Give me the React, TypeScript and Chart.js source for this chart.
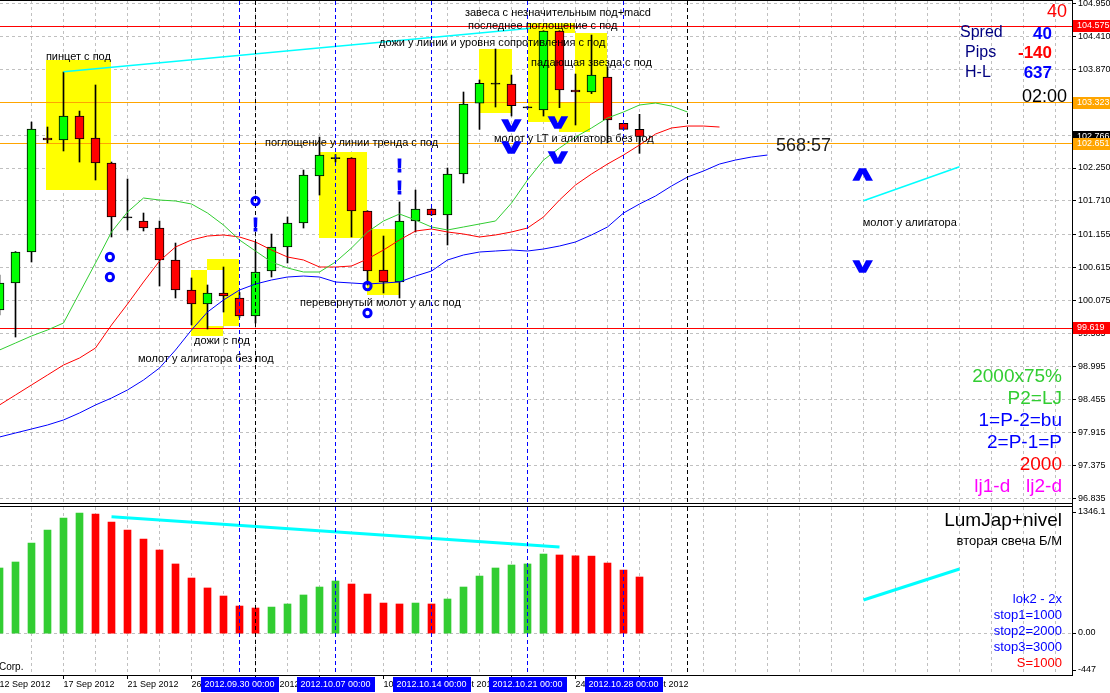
import React, { useEffect, useRef } from 'react';
import { Chart, registerables } from 'chart.js';
Chart.register(...registerables);

const FONT = '"Liberation Sans", Arial, sans-serif';

// ---- daily candles, 12 Sep 2012 .. 29 Oct 2012 (Sunday bars included) ----
const opens = [99.922, 100.365, 100.873, 102.742, 102.709, 103.102, 102.742, 102.332, 101.440, 101.381, 101.266, 100.742, 100.250, 100.020, 100.201, 100.119, 99.824, 100.561, 100.955, 101.348, 102.119, 102.414, 102.414, 101.545, 100.578, 100.381, 101.381, 101.578, 101.479, 102.152, 103.315, 103.632, 103.627, 103.245, 103.201, 104.496, 103.529, 103.496, 103.742, 102.982, 102.884];
const highs = [100.496, 100.880, 103.004, 102.922, 103.824, 103.184, 103.611, 102.348, 102.070, 101.512, 101.381, 101.020, 100.447, 100.332, 100.627, 100.210, 101.037, 101.168, 101.447, 102.217, 102.758, 102.470, 102.420, 101.550, 101.135, 101.693, 101.889, 101.585, 102.250, 103.496, 103.693, 104.201, 103.774, 103.260, 104.501, 104.501, 103.791, 104.430, 103.911, 102.982, 103.130];
const lows = [99.840, 99.479, 100.709, 102.660, 102.529, 102.348, 102.053, 101.119, 101.234, 101.217, 100.315, 100.119, 99.676, 99.611, 99.889, 99.800, 99.709, 100.463, 100.693, 101.266, 101.807, 102.348, 101.119, 100.332, 100.201, 100.119, 101.201, 101.470, 100.988, 102.004, 102.884, 103.250, 103.102, 103.230, 103.102, 103.239, 102.955, 103.470, 102.660, 102.884, 102.491];
const closes = [100.365, 100.873, 102.889, 102.709, 103.102, 102.725, 102.332, 101.447, 101.440, 101.266, 100.742, 100.250, 100.020, 100.201, 100.152, 99.824, 100.545, 100.955, 101.348, 102.135, 102.463, 102.414, 101.545, 100.561, 100.381, 101.381, 101.578, 101.479, 102.152, 103.299, 103.638, 103.632, 103.271, 103.245, 104.496, 103.529, 103.496, 103.774, 103.037, 102.884, 102.766];

// ---- Alligator (shifted forward) ----
const lipsGreen = [99.266, 99.381, 99.496, 99.594, 99.709, 100.201, 100.693, 101.201, 101.529, 101.758, 101.725, 101.709, 101.660, 101.512, 101.315, 101.070, 100.889, 100.709, 100.611, 100.545, 100.545, 100.709, 100.939, 101.201, 101.381, 101.496, 101.397, 101.283, 101.234, 101.283, 101.332, 101.381, 101.676, 102.053, 102.381, 102.578, 102.758, 102.906, 103.070, 103.168, 103.283, 103.315, 103.266, 103.168];
const teethRed = [98.365, 98.529, 98.693, 98.856, 99.020, 99.135, 99.299, 99.676, 100.020, 100.381, 100.725, 100.955, 101.070, 101.135, 101.152, 101.119, 101.037, 100.906, 100.791, 100.742, 100.627, 100.627, 100.643, 100.758, 100.906, 101.070, 101.217, 101.250, 101.201, 101.168, 101.119, 101.152, 101.201, 101.266, 101.447, 101.725, 101.971, 102.152, 102.315, 102.463, 102.627, 102.807, 102.906, 102.938, 102.938, 102.922];
const jawBlue = [97.840, 97.906, 97.971, 98.037, 98.119, 98.234, 98.365, 98.479, 98.611, 98.774, 98.971, 99.266, 99.594, 99.889, 100.086, 100.250, 100.348, 100.414, 100.463, 100.479, 100.463, 100.381, 100.365, 100.348, 100.365, 100.381, 100.479, 100.561, 100.742, 100.824, 100.873, 100.889, 100.906, 100.889, 100.922, 100.971, 101.037, 101.152, 101.283, 101.512, 101.660, 101.791, 101.955, 102.102, 102.201, 102.315, 102.381, 102.430, 102.463];

// ---- LumJap+nivel histogram ----
const histValues = [695, 759, 962, 1100, 1229, 1282, 1271, 1186, 1100, 1004, 887, 738, 588, 482, 396, 289, 268, 278, 311, 407, 492, 556, 524, 417, 321, 311, 321, 311, 364, 492, 609, 695, 727, 738, 844, 834, 825, 822, 748, 673, 599];

// ---- trend lines ----
const trendTopX = [4, 33.2];
const trendTopY = [103.829, 104.540];
const trendFutX = [54, 60];
const trendFutY = [101.714, 102.271];
const histTrendX = [7, 35];
const histTrendY = [1242, 919];
const histFutX = [54, 60];
const histFutY = [353, 684];

// ---- axes ----
const priceTicks = [104.950, 104.410, 103.870, 103.330, 102.790, 102.250, 101.710, 101.155, 100.615, 100.075, 99.535, 98.995, 98.455, 97.915, 97.375, 96.835];
const dateTickIndex = [0, 4, 8, 12, 16, 20, 24, 28, 32, 36, 40];
const dateTickLabels = ['12 Sep 2012', '17 Sep 2012', '21 Sep 2012', '26 Sep 2012', '1 Oct 2012', '5 Oct 2012', '10 Oct 2012', '15 Oct 2012', '19 Oct 2012', '24 Oct 2012', '29 Oct 2012'];
const weekLineIndex = [15, 21, 27, 33, 39];
const weekLineLabels = ['2012.09.30 00:00', '2012.10.07 00:00', '2012.10.14 00:00', '2012.10.21 00:00', '2012.10.28 00:00'];
const monthLineIndex = [16, 43];

const levelPrices = [104.575, 103.323, 102.651, 99.619];
const levelColors = ['#ff0000', '#ffa500', '#ffa500', '#ff0000'];
const tagPrices = [104.575, 103.323, 102.766, 102.651, 99.619];
const tagColors = ['#ff0000', '#ffa500', '#000000', '#ffa500', '#ff0000'];

// highlight rectangles: [fromIndex, toIndex, topPrice, bottomPrice]
const yellowBoxes = [
  [2.91, 6.97, 104.020, 101.889],
  [11.97, 12.97, 100.578, 99.496],
  [12.97, 13.97, 99.660, 99.496],
  [12.97, 14.97, 100.758, 100.578],
  [13.97, 14.97, 100.578, 99.660],
  [19.97, 22.97, 102.512, 101.102],
  [22.97, 24.97, 101.250, 100.168],
  [29.97, 32.03, 104.201, 103.152],
  [33.03, 35.97, 104.627, 104.463],
  [33.03, 34.97, 104.463, 103.004],
  [35.97, 37.97, 104.463, 103.332],
  [34.97, 36.91, 103.332, 102.840],
];

// text notes: [index, price, text]
const notes: [number, number, string][] = [
  [2.9, 104.070, 'пинцет с под'],
  [12.16, 99.414, 'дожи с под'],
  [8.66, 99.119, 'молот у алигатора без под'],
  [16.59, 102.668, 'поглощение у линии тренда с под'],
  [18.78, 100.045, 'перевернутый молот у ал.с под'],
  [23.72, 104.294, 'дожи у линии и уровня сопротивления с под'],
  [29.09, 104.786, 'завеса с незначительным под+macd'],
  [29.28, 104.583, 'последнее поглощение с под'],
  [33.22, 103.976, 'падающая звезда с под'],
  [30.9, 102.720, 'молот у LT и алигатора без под'],
  [53.95, 101.343, 'молот у алигатора'],
];

// signal marks: [index, price, kind]
const marks: [number, number, string][] = [
  [6.9, 100.791, 'o'], [6.9, 100.463, 'o'],
  [16, 101.709, 'o'], [16, 101.315, '!'],
  [23, 100.315, 'o'], [23, 99.873, 'o'],
  [25, 102.283, '!'], [25, 101.922, '!'],
  [32, 102.938, 'v'], [32, 102.578, 'v'],
  [34.9, 102.988, 'v'], [34.9, 102.414, 'v'],
  [53.95, 102.147, '^'], [53.95, 100.632, 'v'],
];

const countdown: [number, number, string] = [48.53, 102.611, '568:57'];

const X_MIN = 0.03125;
const X_MAX = 67.03125;

const crisp = (v: number) => Math.floor(v) + 0.5;
function hLine(ctx: CanvasRenderingContext2D, x0: number, x1: number, y: number) {
  ctx.beginPath(); ctx.moveTo(x0, y); ctx.lineTo(x1, y); ctx.stroke();
}
function vLine(ctx: CanvasRenderingContext2D, x: number, y0: number, y1: number) {
  ctx.beginPath(); ctx.moveTo(x, y0); ctx.lineTo(x, y1); ctx.stroke();
}
function txt(ctx: CanvasRenderingContext2D, s: string, x: number, y: number, font: string, color: string, align: CanvasTextAlign = 'left') {
  ctx.font = font; ctx.fillStyle = color; ctx.textAlign = align; ctx.textBaseline = 'middle';
  ctx.fillText(s, x, y);
}
function drawMark(ctx: CanvasRenderingContext2D, kind: string, x: number, y: number) {
  ctx.fillStyle = '#0000ff';
  ctx.strokeStyle = '#0000ff';
  ctx.setLineDash([]);
  if (kind === 'o') {
    ctx.lineWidth = 3;
    ctx.beginPath();
    ctx.ellipse(x, y, 3.6, 3.8, 0, 0, Math.PI * 2);
    ctx.stroke();
  } else if (kind === '!') {
    ctx.textAlign = 'center';
    ctx.textBaseline = 'alphabetic';
    ctx.lineWidth = 1.2;
    ctx.font = `bold 18px ${FONT}`;
    ctx.fillText('!', x, y + 6.4);
    ctx.strokeText('!', x, y + 6.4);
  } else {
    ctx.save();
    ctx.translate(x, y);
    ctx.scale(1.6, kind === '^' ? -1 : 1);
    ctx.textAlign = 'center';
    ctx.textBaseline = 'alphabetic';
    ctx.lineWidth = 1.4;
    ctx.font = `bold 20px ${FONT}`;
    ctx.fillText('v', 0, 5.2);
    ctx.strokeText('v', 0, 5.2);
    ctx.restore();
  }
}

const mainDecor = {
  id: 'mainDecor',
  beforeDatasetsDraw(chart: any) {
    const { ctx, chartArea: a, scales } = chart;
    const xs = scales.x, ys = scales.y;
    ctx.save();
    ctx.beginPath(); ctx.rect(a.left, a.top, a.right - a.left, a.bottom - a.top); ctx.clip();
    ctx.lineWidth = 1;
    ctx.strokeStyle = '#c0c0c0';
    ctx.setLineDash([3, 3]);
    priceTicks.forEach((v) => hLine(ctx, a.left, a.right, crisp(ys.getPixelForValue(v))));
    for (let i = 2; i <= 66; i += 2) vLine(ctx, crisp(xs.getPixelForValue(i)), a.top, a.bottom);
    ctx.setLineDash([]);
    ctx.fillStyle = '#ffff00';
    yellowBoxes.forEach(([i0, i1, p0, p1]) => {
      const x0 = Math.round(xs.getPixelForValue(i0)), x1 = Math.round(xs.getPixelForValue(i1));
      const y0 = Math.round(ys.getPixelForValue(p0)), y1 = Math.round(ys.getPixelForValue(p1));
      ctx.fillRect(x0, y0, x1 - x0, y1 - y0);
    });
    levelPrices.forEach((p, k) => {
      ctx.strokeStyle = levelColors[k];
      hLine(ctx, a.left, a.right, crisp(ys.getPixelForValue(p)));
    });
    ctx.restore();
  },
  afterDatasetsDraw(chart: any) {
    const { ctx, chartArea: a, scales } = chart;
    const xs = scales.x, ys = scales.y;
    ctx.save();
    ctx.beginPath(); ctx.rect(a.left, a.top, a.right - a.left, a.bottom - a.top); ctx.clip();
    ctx.lineWidth = 1;
    ctx.setLineDash([4, 3]);
    ctx.strokeStyle = '#000000';
    monthLineIndex.forEach((i) => vLine(ctx, crisp(xs.getPixelForValue(i)), a.top, a.bottom));
    ctx.strokeStyle = '#0000ff';
    weekLineIndex.forEach((i) => vLine(ctx, crisp(xs.getPixelForValue(i)), a.top, a.bottom));
    ctx.setLineDash([]);
    notes.forEach(([i, p, s]) => txt(ctx, s, xs.getPixelForValue(i), ys.getPixelForValue(p), `11px ${FONT}`, '#000000'));
    marks.forEach(([i, p, k]) => drawMark(ctx, k, xs.getPixelForValue(i), ys.getPixelForValue(p)));
    txt(ctx, countdown[2], xs.getPixelForValue(countdown[0]), ys.getPixelForValue(countdown[1]), `18px ${FONT}`, '#202020');
    ctx.restore();
  },
  afterDraw(chart: any) {
    const { ctx, chartArea: a, scales } = chart;
    const ys = scales.y;
    ctx.save();
    // info block
    const R = a.right;
    txt(ctx, '40', R - 5, 12, `18px ${FONT}`, '#ff0000', 'right');
    txt(ctx, 'Spred', R - 112, 33, `16px ${FONT}`, '#000080');
    txt(ctx, '40', R - 20, 34, `bold 17px ${FONT}`, '#0000ff', 'right');
    txt(ctx, 'Pips', R - 107, 53, `16px ${FONT}`, '#000080');
    txt(ctx, '-140', R - 20, 53, `bold 17px ${FONT}`, '#ff0000', 'right');
    txt(ctx, 'H-L', R - 107, 73, `16px ${FONT}`, '#000080');
    txt(ctx, '637', R - 20, 73, `bold 17px ${FONT}`, '#0000ff', 'right');
    txt(ctx, '02:00', R - 5, 97, `18px ${FONT}`, '#000000', 'right');
    txt(ctx, '2000x75%', R - 10, 377, `19px ${FONT}`, '#32cd32', 'right');
    txt(ctx, 'P2=LJ', R - 10, 399, `19px ${FONT}`, '#32cd32', 'right');
    txt(ctx, '1=P-2=bu', R - 10, 421, `19px ${FONT}`, '#0000ff', 'right');
    txt(ctx, '2=P-1=P', R - 10, 443, `19px ${FONT}`, '#0000ff', 'right');
    txt(ctx, '2000', R - 10, 465, `19px ${FONT}`, '#ff0000', 'right');
    txt(ctx, 'lj1-d   lj2-d', R - 10, 487, `19px ${FONT}`, '#ff00ff', 'right');
    // axis ticks
    ctx.strokeStyle = '#000000'; ctx.lineWidth = 1;
    priceTicks.forEach((v) => hLine(ctx, R, R + 4, crisp(ys.getPixelForValue(v))));
    // price tags
    tagPrices.forEach((p, k) => {
      const y = ys.getPixelForValue(p);
      ctx.fillStyle = tagColors[k];
      ctx.fillRect(R + 1, Math.round(y - 6), 40, 12);
      txt(ctx, p.toFixed(3), R + 5, Math.round(y), `9px ${FONT}`, '#ffffff');
    });
    // frame
    ctx.fillStyle = '#000000';
    ctx.fillRect(0, 0, R + 1, 1);
    ctx.fillRect(0, 503, R + 1, 1);
    ctx.fillRect(R, 0, 1, 505);
    ctx.restore();
  },
};

const lowDecor = {
  id: 'lowDecor',
  beforeDatasetsDraw(chart: any) {
    const { ctx, chartArea: a, scales } = chart;
    const xs = scales.x, ys = scales.y;
    ctx.save();
    ctx.lineWidth = 1;
    ctx.strokeStyle = '#c0c0c0';
    ctx.setLineDash([3, 3]);
    for (let i = 2; i <= 66; i += 2) vLine(ctx, crisp(xs.getPixelForValue(i)), a.top, a.bottom);
    hLine(ctx, a.left, a.right, crisp(ys.getPixelForValue(0)));
    ctx.restore();
  },
  afterDatasetsDraw(chart: any) {
    const { ctx, chartArea: a, scales } = chart;
    const xs = scales.x;
    ctx.save();
    ctx.lineWidth = 1;
    ctx.setLineDash([4, 3]);
    ctx.strokeStyle = '#000000';
    monthLineIndex.forEach((i) => vLine(ctx, crisp(xs.getPixelForValue(i)), a.top, a.bottom));
    ctx.strokeStyle = '#0000ff';
    weekLineIndex.forEach((i) => vLine(ctx, crisp(xs.getPixelForValue(i)), a.top, a.bottom));
    ctx.restore();
  },
  afterDraw(chart: any) {
    const { ctx, chartArea: a, scales } = chart;
    const xs = scales.x, ys = scales.y;
    const R = a.right;
    ctx.save();
    ctx.fillStyle = '#000000';
    ctx.fillRect(0, 1, R + 1, 1);
    ctx.fillRect(0, a.bottom, R + 1, 1);
    ctx.fillRect(R, 0, 1, a.bottom + 1);
    // right labels
    const z = ys.getPixelForValue(0);
    ctx.strokeStyle = '#000000'; ctx.lineWidth = 1;
    hLine(ctx, R, R + 4, crisp(z));
    hLine(ctx, R, R + 4, 7.5);
    hLine(ctx, R, R + 4, a.bottom - 4.5);
    txt(ctx, '1346.1', R + 6, 7, `9px ${FONT}`, '#000000');
    txt(ctx, '0.00', R + 6, Math.round(z), `9px ${FONT}`, '#000000');
    txt(ctx, '-447', R + 6, a.bottom - 5, `9px ${FONT}`, '#000000');
    // date tick marks
    dateTickIndex.forEach((i) => vLine(ctx, crisp(xs.getPixelForValue(i)), a.bottom, a.bottom + 4));
    // week labels
    weekLineIndex.forEach((i, k) => {
      const x = xs.getPixelForValue(i);
      ctx.fillStyle = '#0000ff';
      ctx.fillRect(Math.round(x - 39), a.bottom + 2, 78, 15);
      txt(ctx, weekLineLabels[k], x, a.bottom + 10, `9px ${FONT}`, '#ffffff', 'center');
    });
    // texts
    txt(ctx, 'LumJap+nivel', R - 10, 16, `19px ${FONT}`, '#000000', 'right');
    txt(ctx, 'вторая свеча Б/М', R - 10, 36, `13px ${FONT}`, '#000000', 'right');
    txt(ctx, 'lok2 - 2x', R - 10, 94, `13px ${FONT}`, '#0000ff', 'right');
    txt(ctx, 'stop1=1000', R - 10, 110, `13px ${FONT}`, '#0000ff', 'right');
    txt(ctx, 'stop2=2000', R - 10, 126, `13px ${FONT}`, '#0000ff', 'right');
    txt(ctx, 'stop3=3000', R - 10, 142, `13px ${FONT}`, '#0000ff', 'right');
    txt(ctx, 'S=1000', R - 10, 158, `13px ${FONT}`, '#ff0000', 'right');
    txt(ctx, 'Corp.', -1, 162, `10px ${FONT}`, '#000000');
    ctx.restore();
  },
};

function mainConfig(): any {
  const bodies = opens.map((o, i) => {
    const c = closes[i];
    const flat = Math.abs(c - o) < 0.01;
    return { x: i, y: flat ? [o - 0.009, o + 0.009] : [o, c] };
  });
  const bodyColors = opens.map((o, i) => (closes[i] > o + 0.01 ? '#00ff00' : closes[i] < o - 0.01 ? '#ff0000' : '#000000'));
  const wicks = lows.map((l, i) => ({ x: i, y: [l, highs[i]] }));
  const line = (vals: number[], color: string) => ({
    type: 'line', data: vals.map((v, i) => ({ x: i, y: v })), borderColor: color, borderWidth: 1,
    pointRadius: 0, tension: 0, order: 0,
  });
  const seg = (xv: number[], yv: number[]) => ({
    type: 'line', data: xv.map((x, k) => ({ x, y: yv[k] })), borderColor: '#00ffff', borderWidth: 1.5,
    pointRadius: 0, order: 0,
  });
  return {
    type: 'bar',
    data: {
      datasets: [
        line(lipsGreen, '#32cd32'),
        line(teethRed, '#ff0000'),
        line(jawBlue, '#0000ff'),
        seg(trendTopX, trendTopY),
        seg(trendFutX, trendFutY),
        { type: 'bar', data: bodies, backgroundColor: bodyColors, borderColor: '#000000', borderWidth: 1, borderSkipped: false, barThickness: 9, grouped: false, order: 5 },
        { type: 'bar', data: wicks, backgroundColor: '#000000', borderWidth: 0, barThickness: 1, grouped: false, order: 6 },
      ],
    },
    options: {
      responsive: false, animation: false, devicePixelRatio: 1, events: [],
      layout: { padding: { left: 0, right: 0, top: 1, bottom: 2 } },
      plugins: { legend: { display: false }, tooltip: { enabled: false } },
      scales: {
        x: { type: 'linear', min: X_MIN, max: X_MAX, offset: false, bounds: 'data', display: false },
        y: {
          type: 'linear', position: 'right', min: 96.758, max: 104.988, bounds: 'data',
          afterFit: (s: any) => { s.width = 38; s.paddingTop = 0; s.paddingBottom = 0; },
          afterBuildTicks: (s: any) => { s.ticks = priceTicks.map((v) => ({ value: v })); },
          ticks: { autoSkip: false, padding: 6, color: '#000000', font: { family: FONT, size: 9 }, callback: (v: any) => Number(v).toFixed(3) },
          grid: { display: false, drawTicks: false }, border: { display: false },
        },
      },
    },
    plugins: [mainDecor],
  };
}

function lowConfig(): any {
  const histColors = histValues.map((v, i) => (i === 0 || v > histValues[i - 1] ? '#32cd32' : '#ff0000'));
  const seg = (xv: number[], yv: number[]) => ({
    type: 'line', data: xv.map((x, k) => ({ x, y: yv[k] })), borderColor: '#00ffff', borderWidth: 3,
    pointRadius: 0, order: 0,
  });
  return {
    type: 'bar',
    data: {
      datasets: [
        seg(histTrendX, histTrendY),
        seg(histFutX, histFutY),
        { type: 'bar', data: histValues.map((v, i) => ({ x: i, y: v })), backgroundColor: histColors, borderWidth: 0, barThickness: 7, grouped: false, order: 1 },
      ],
    },
    options: {
      responsive: false, animation: false, devicePixelRatio: 1, events: [],
      layout: { padding: { left: 0, right: 0, top: 2, bottom: 0 } },
      plugins: { legend: { display: false }, tooltip: { enabled: false } },
      scales: {
        x: {
          type: 'linear', position: 'bottom', min: X_MIN, max: X_MAX, offset: false, bounds: 'data',
          afterFit: (s: any) => { s.height = 18; s.paddingLeft = 0; s.paddingRight = 0; },
          afterBuildTicks: (s: any) => { s.ticks = dateTickIndex.map((v) => ({ value: v })); },
          ticks: {
            autoSkip: false, maxRotation: 0, minRotation: 0, align: 'start', padding: 4, color: '#000000',
            font: { family: FONT, size: 9 }, callback: (_v: any, idx: number) => dateTickLabels[idx],
          },
          grid: { display: false, drawTicks: false }, border: { display: false },
        },
        y: {
          type: 'linear', position: 'right', min: -447, max: 1346.1, bounds: 'data',
          afterFit: (s: any) => { s.width = 38; s.paddingTop = 0; s.paddingBottom = 0; },
          ticks: { display: false }, grid: { display: false, drawTicks: false }, border: { display: false },
        },
      },
    },
    plugins: [lowDecor],
  };
}

export default function App() {
  const mainRef = useRef<HTMLCanvasElement>(null);
  const lowRef = useRef<HTMLCanvasElement>(null);
  useEffect(() => {
    const mc = new Chart(mainRef.current as HTMLCanvasElement, mainConfig());
    const lc = new Chart(lowRef.current as HTMLCanvasElement, lowConfig());
    return () => { mc.destroy(); lc.destroy(); };
  }, []);
  return (
    <div style={{ position: 'fixed', left: 0, top: 0, width: 1110, height: 693, background: '#ffffff', overflow: 'hidden' }}>
      <canvas ref={mainRef} width={1110} height={505} style={{ position: 'absolute', left: 0, top: 0, width: 1110, height: 505 }} />
      <canvas ref={lowRef} width={1110} height={188} style={{ position: 'absolute', left: 0, top: 505, width: 1110, height: 188 }} />
    </div>
  );
}
